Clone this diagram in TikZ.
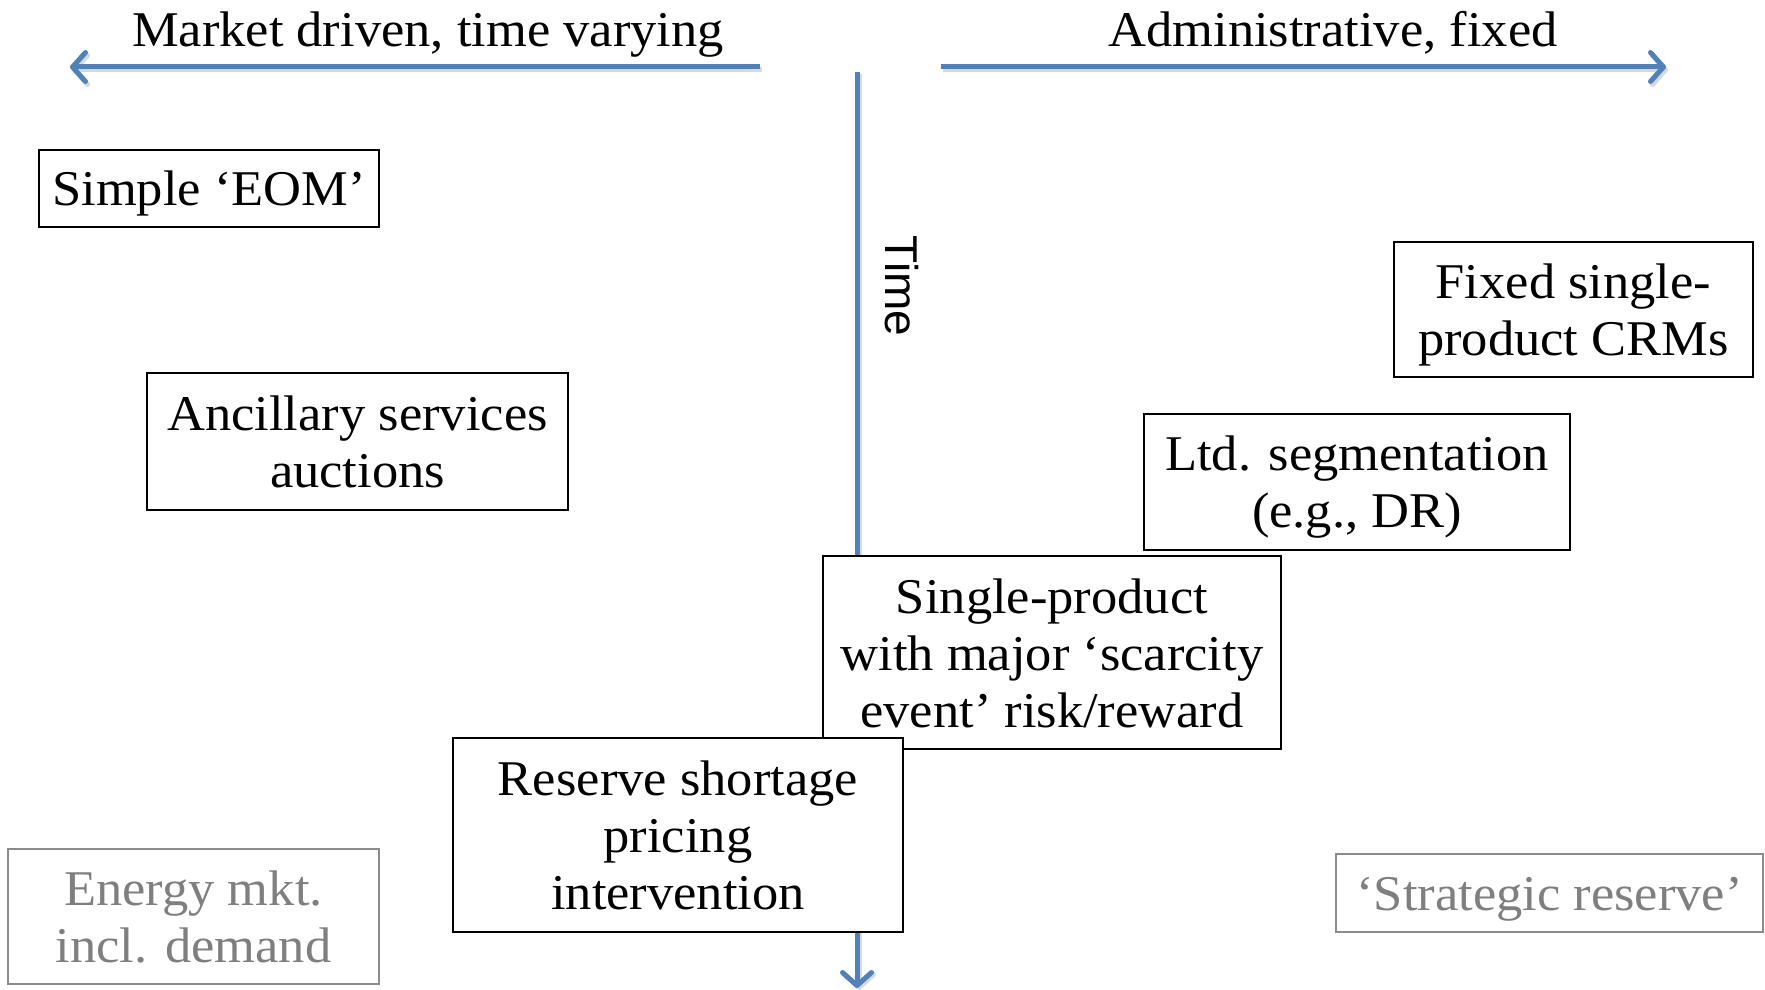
\documentclass[tikz,border=0pt]{standalone}
\usepackage{fontspec}
\setmainfont{Liberation Serif}[FakeStretch=1.05]
\newfontfamily\timefont{Liberation Sans}
\usetikzlibrary{arrows.meta}
\definecolor{axisblue}{HTML}{4F81BD}
\definecolor{softgray}{HTML}{7F7F7F}
\definecolor{boxgray}{HTML}{8C8C8C}
\newcommand\lnstrut{\rule[-10pt]{0pt}{55pt}}
\begin{document}
\begin{tikzpicture}[x=1pt,y=-1pt,
  every node/.style={font=\fontsize{50}{57}\selectfont},
  cbox/.style={draw=black, line width=1.8pt, fill=white, align=center, inner sep=0pt},
  gbox/.style={cbox, draw=boxgray, text=softgray},
  axisline/.style={draw=axisblue, line width=5pt},
  tipped/.style={-{Straight Barb[round,length=13pt,width=29pt]}},
  shadowline/.style={draw=black!15, line width=5pt}
]
\useasboundingbox[fill=white] (0,0) rectangle (1765,990);

% axis end points
\coordinate (lstart) at (760,67);
\coordinate (lend) at (70,67);
\coordinate (rstart) at (941,67);
\coordinate (rend) at (1666,67);
\coordinate (vtop) at (857,72);
\coordinate (vbot) at (857,988);

% soft shadows
\draw[shadowline, tipped] ([shift={(2,3)}]lstart) -- ([shift={(2,3)}]lend);
\draw[shadowline, tipped] ([shift={(2,3)}]rstart) -- ([shift={(2,3)}]rend);
\draw[shadowline, tipped] ([shift={(2,2)}]vtop) -- ([shift={(2,2)}]vbot);

% axes
\draw[axisline, tipped] (lstart) -- (lend);
\draw[axisline, tipped] (rstart) -- (rend);
\draw[axisline, tipped] (vtop) -- (vbot);

% axis labels
\node[anchor=base] (mkt) at (428,47) {Market driven, time varying};
\node[anchor=base] (adm) at (1333,47) {Administrative, fixed};
\node[font=\timefont\fontsize{46}{50}\selectfont, rotate=-90] (time) at (902,286) {Time};

% boxes
\node[cbox, minimum width=340pt, minimum height=77pt] (eom) at (209,188.5) {\lnstrut Simple ‘EOM’};
\node[cbox, minimum width=421pt, minimum height=137pt] (anc) at (357.5,441.5) {\lnstrut Ancillary services\\\lnstrut auctions};
\node[cbox, minimum width=359pt, minimum height=135pt] (fixed) at (1573.5,309.5) {\lnstrut Fixed single-\\\lnstrut product CRMs};
\node[cbox, minimum width=426pt, minimum height=136pt] (ltd) at (1357,482) {\lnstrut Ltd. segmentation\\\lnstrut (e.g., DR)};
\node[cbox, minimum width=458pt, minimum height=193pt] (single) at (1052,652.5) {\lnstrut Single-product\\\lnstrut with major ‘scarcity\\\lnstrut event’ risk/reward};
\node[cbox, minimum width=450pt, minimum height=194pt] (reserve) at (678,835) {\lnstrut Reserve shortage\\\lnstrut pricing\\\lnstrut intervention};
\node[gbox, minimum width=371pt, minimum height=135pt] (energy) at (193.5,916.5) {\lnstrut Energy mkt.\\\lnstrut incl. demand};
\node[gbox, minimum width=427pt, minimum height=78pt] (strat) at (1549.5,893) {\lnstrut ‘Strategic reserve’};
\end{tikzpicture}
\end{document}
